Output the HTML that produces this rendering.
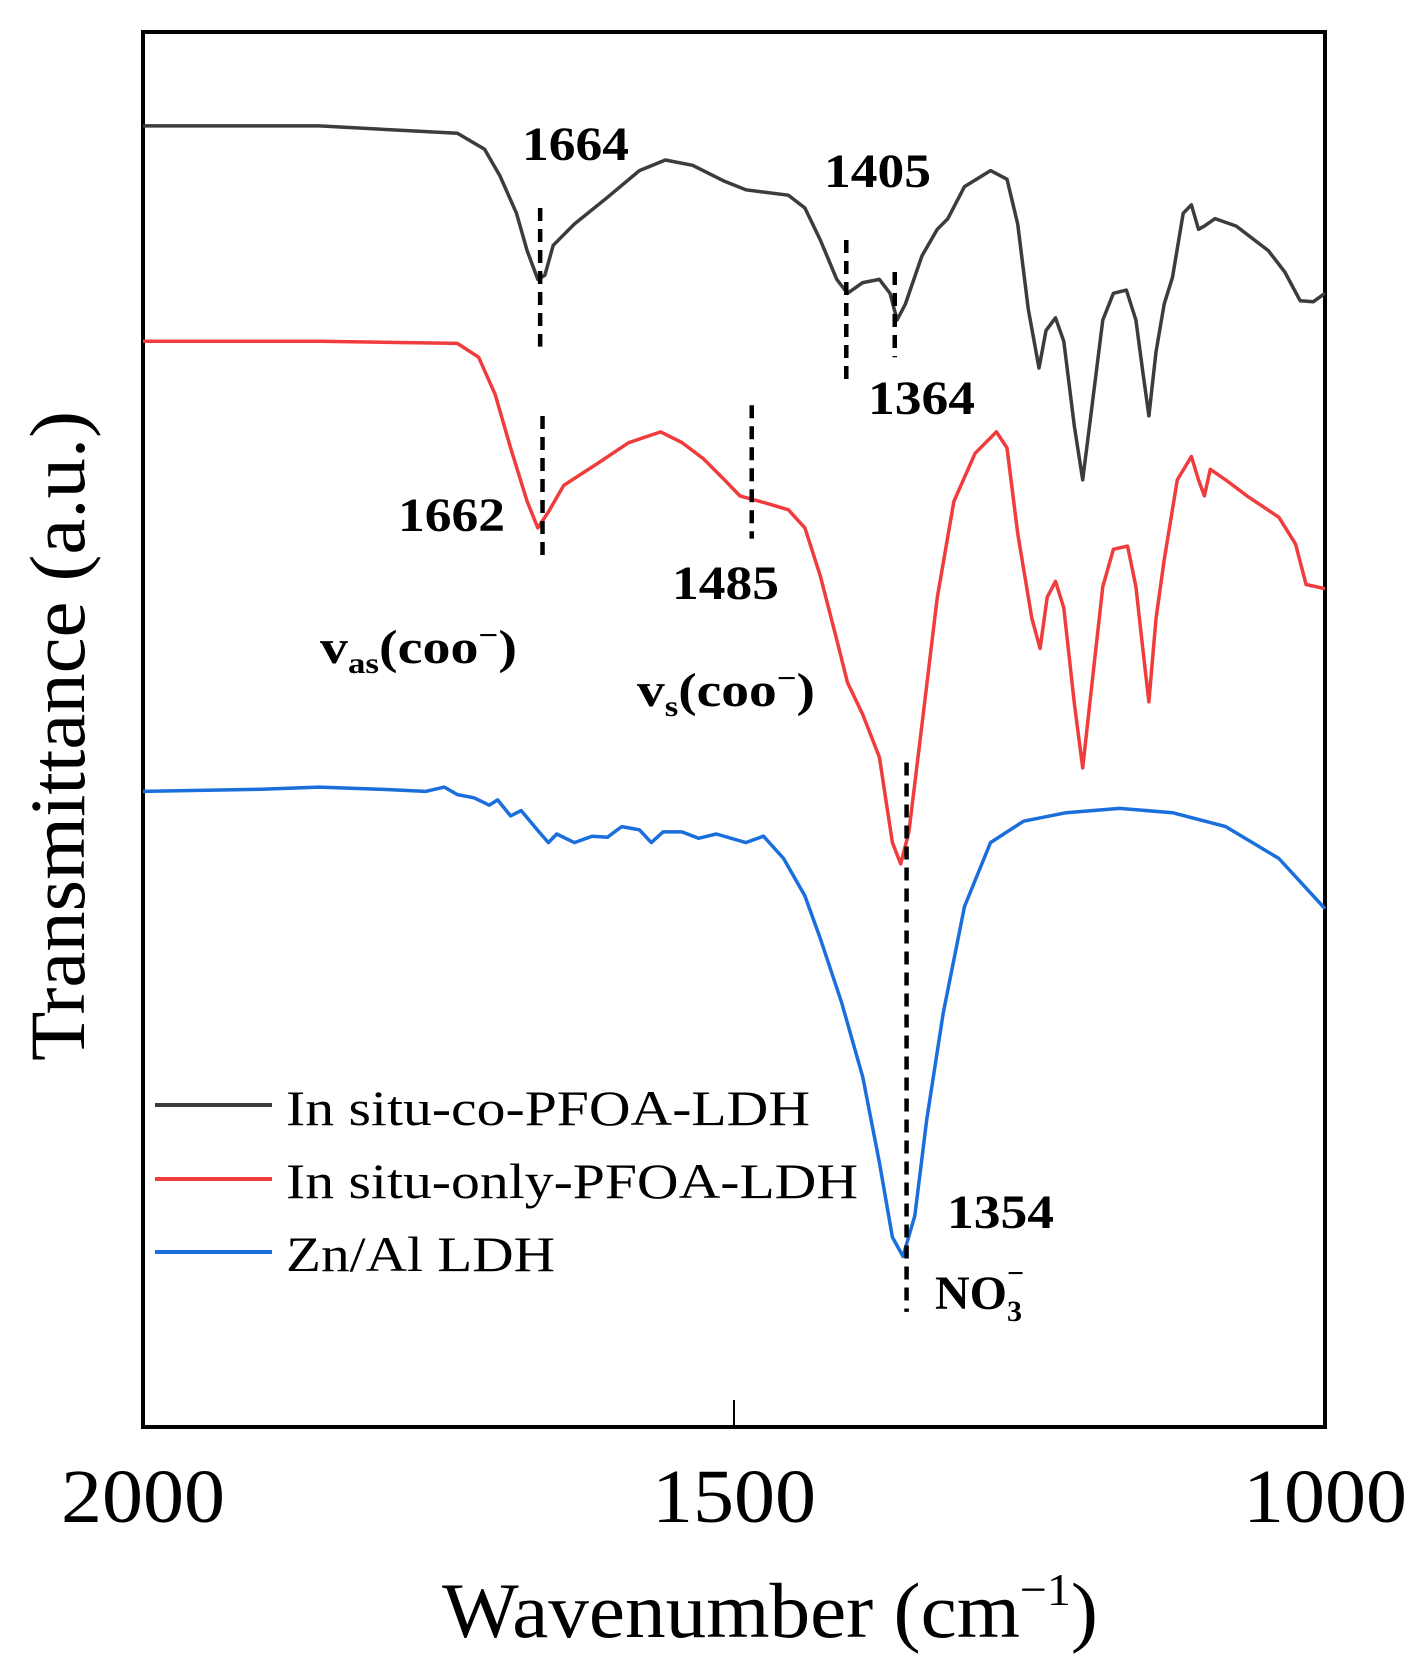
<!DOCTYPE html>
<html><head><meta charset="utf-8"><style>
html,body{margin:0;padding:0;background:#fff}
svg{display:block}
text{font-family:"Liberation Serif",serif;fill:#000}
.b{font-weight:bold;font-size:48px}
</style></head><body>
<svg id="chart" width="1421" height="1670" viewBox="0 0 1421 1670" xmlns="http://www.w3.org/2000/svg">
<rect x="143" y="32" width="1182" height="1395" fill="none" stroke="#000" stroke-width="4"/>
<g id="series"></g>
<g id="marks"></g>
<g id="ticks"></g>
<text x="442" y="1637" font-size="78" textLength="656" lengthAdjust="spacingAndGlyphs">Wavenumber (cm<tspan font-size="46" dy="-32">−1</tspan><tspan dy="32">)</tspan></text>
<text transform="translate(84,1061) rotate(-90)" font-size="78" textLength="650" lengthAdjust="spacingAndGlyphs">Transmittance (a.u.)</text>
<text class="b" x="522" y="160" textLength="107" lengthAdjust="spacingAndGlyphs">1664</text>
<text class="b" x="824" y="187" textLength="107" lengthAdjust="spacingAndGlyphs">1405</text>
<text class="b" x="868" y="414" textLength="107" lengthAdjust="spacingAndGlyphs">1364</text>
<text class="b" x="398" y="531" textLength="107" lengthAdjust="spacingAndGlyphs">1662</text>
<text class="b" x="672" y="599" textLength="107" lengthAdjust="spacingAndGlyphs">1485</text>
<text class="b" x="320" y="663" textLength="197" lengthAdjust="spacingAndGlyphs">v<tspan font-size="30" dy="10">as</tspan><tspan dy="-10">(coo</tspan><tspan font-size="30" dy="-18">−</tspan><tspan dy="18">)</tspan></text>
<text class="b" x="637" y="706" textLength="178" lengthAdjust="spacingAndGlyphs">v<tspan font-size="30" dy="10">s</tspan><tspan dy="-10">(coo</tspan><tspan font-size="30" dy="-18">−</tspan><tspan dy="18">)</tspan></text>
<text class="b" x="947" y="1228" textLength="107" lengthAdjust="spacingAndGlyphs">1354</text>
<text class="b" x="935" y="1309">NO<tspan font-size="30" dy="12">3</tspan><tspan font-size="30" dx="-15" dy="-38">−</tspan></text>
<g>
<line x1="155" y1="1105" x2="272" y2="1105" stroke="#3c3c3c" stroke-width="4"/>
<text x="286" y="1125" font-size="50" textLength="524" lengthAdjust="spacingAndGlyphs">In situ-co-PFOA-LDH</text>
<line x1="155" y1="1179" x2="272" y2="1179" stroke="#f03c3c" stroke-width="4"/>
<text x="286" y="1198" font-size="50" textLength="572" lengthAdjust="spacingAndGlyphs">In situ-only-PFOA-LDH</text>
<line x1="155" y1="1252" x2="272" y2="1252" stroke="#1a6fdc" stroke-width="4"/>
<text x="286" y="1271" font-size="50" textLength="269" lengthAdjust="spacingAndGlyphs">Zn/Al LDH</text>
</g>
</svg>
<script>
const xTicks=[2000,1500,1000];
const grayWn=[2000,1851,1734,1711,1698,1684,1675,1666,1660,1653,1635,1607,1580,1558,1535,1508,1490,1454,1440,1427,1413,1404,1391,1377,1368,1362,1355,1341,1328,1319,1305,1283,1269,1260,1251,1242,1236,1228,1221,1212,1205,1197,1188,1179,1168,1160,1154,1149,1143,1136,1129,1120,1113,1107,1102,1093,1075,1048,1034,1021,1010,1000];
const grayT=[118,118,125,140,165,200,235,262,258,230,210,185,160,150,155,170,178,183,195,225,262,275,265,262,275,300,285,240,215,205,175,160,168,210,290,345,310,298,320,400,450,380,300,275,272,300,350,390,330,285,260,200,192,215,212,205,212,235,255,282,283,275];
const redWn=[2000,1851,1734,1716,1702,1689,1675,1666,1657,1644,1616,1589,1562,1544,1526,1508,1495,1472,1454,1440,1427,1413,1404,1391,1377,1366,1359,1352,1341,1328,1314,1296,1278,1269,1260,1248,1241,1235,1228,1221,1212,1205,1197,1188,1179,1167,1160,1154,1149,1143,1136,1125,1113,1107,1102,1097,1084,1066,1039,1025,1016,1000];
const redT=[320,320,322,335,370,420,470,495,480,455,435,415,405,415,430,450,465,472,478,495,540,600,640,670,710,790,810,780,680,560,470,425,405,420,500,580,608,560,545,570,660,720,640,550,515,512,550,610,658,580,525,450,428,450,465,440,450,465,485,510,548,552];
const blueWn=[2000,1900,1851,1800,1761,1745,1734,1720,1707,1700,1689,1680,1671,1665,1657,1650,1635,1620,1607,1595,1580,1570,1560,1544,1530,1515,1490,1475,1458,1440,1427,1409,1391,1377,1366,1357,1347,1337,1323,1305,1283,1255,1219,1174,1129,1084,1039,1000];
const blueT=[742,740,738,740,742,738,745,748,755,750,765,760,772,780,790,782,790,784,785,775,778,790,780,780,786,782,790,784,805,840,880,940,1010,1090,1160,1178,1140,1050,950,850,790,770,762,758,762,775,805,852];
const dashWn=[1664,1405,1364,1662,1485,1354];
const dashTop=[195,225,255,390,380,715];
const dashBot=[325,360,335,525,505,1230];

const NS='http://www.w3.org/2000/svg';
function xScale(w){return 143+(2000-w)*(1182/1000);}
function yScale(v){return 32+(v-30)*(1395/1308);}
const gS=document.getElementById('series');
function draw(wn,t,color,name){
  const p=document.createElementNS(NS,'path');
  let d='';
  for(let i=0;i<wn.length;i++){d+=(i?'L':'M')+xScale(wn[i]).toFixed(1)+' '+yScale(t[i]).toFixed(1);}
  p.setAttribute('d',d);p.setAttribute('fill','none');p.setAttribute('stroke',color);
  p.setAttribute('stroke-width','3.5');p.setAttribute('stroke-linejoin','round');
  
  
  gS.appendChild(p);
}
draw(grayWn,grayT,'#3c3c3c','series-co-pfoa-ldh');
draw(redWn,redT,'#f03c3c','series-only-pfoa-ldh');
draw(blueWn,blueT,'#1a6fdc','series-znal-ldh');
const gM=document.getElementById('marks');
for(let i=0;i<dashWn.length;i++){
  const l=document.createElementNS(NS,'line');
  const x=xScale(dashWn[i]);
  l.setAttribute('x1',x);l.setAttribute('x2',x);
  l.setAttribute('y1',yScale(dashTop[i]));l.setAttribute('y2',yScale(dashBot[i]));
  l.setAttribute('stroke','#000');l.setAttribute('stroke-width','4.5');l.setAttribute('stroke-dasharray','13 8');
  
  
  gM.appendChild(l);
}
const gT=document.getElementById('ticks');
for(const t of xTicks){
  const x=xScale(t);
  const l=document.createElementNS(NS,'line');
  l.setAttribute('x1',x);l.setAttribute('x2',x);l.setAttribute('y1',1427);l.setAttribute('y2',1400);
  l.setAttribute('stroke','#000');l.setAttribute('stroke-width','2');
  
  
  gT.appendChild(l);
  const tx=document.createElementNS(NS,'text');
  tx.setAttribute('x',x-82);tx.setAttribute('y',1522);tx.setAttribute('font-size','76');
  tx.setAttribute('textLength','164');tx.setAttribute('lengthAdjust','spacingAndGlyphs');
  tx.textContent=t;
  
  
  gT.appendChild(tx);
}
</script>
</body></html>
